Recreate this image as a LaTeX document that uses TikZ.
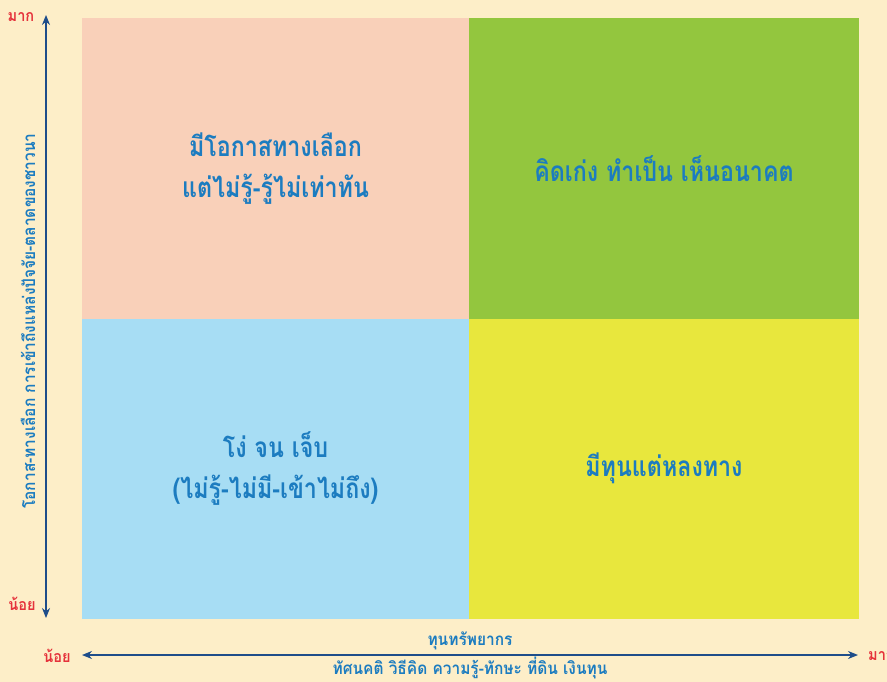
\documentclass[tikz,border=0pt]{standalone}
\usepackage{fontspec}
\newfontfamily\thaifont[Script=Thai,FakeStretch=0.83]{Loma}
\newfontfamily\thaiaxis[Script=Thai,FakeStretch=0.91]{Loma}
\usepackage{tikz}
\usetikzlibrary{arrows.meta,positioning}
\definecolor{bgcol}{HTML}{FDEEC8}
\definecolor{tlcol}{HTML}{F9D0B9}
\definecolor{trcol}{HTML}{93C63E}
\definecolor{blcol}{HTML}{A7DDF4}
\definecolor{brcol}{HTML}{E8E73D}
\definecolor{txtblue}{HTML}{1C7CC0}
\definecolor{axisblue}{HTML}{1E4D8A}
\definecolor{lblred}{HTML}{E5323B}

\begin{document}
\begin{tikzpicture}[
        x=1pt, y=-1pt,
        quad/.style={rectangle, minimum height=300.5pt, inner sep=0pt, outer sep=0pt, align=center,
          text=txtblue, font=\thaifont\bfseries\fontsize{28}{41}\selectfont},
        axis/.style={{Stealth[length=10pt,width=8pt]}-{Stealth[length=10pt,width=8pt]}, axisblue, line width=1.3pt},
        endlbl/.style={text=lblred, font=\thaiaxis\bfseries\fontsize{16}{20}\selectfont, inner sep=0pt},
        axislbl/.style={text=txtblue, font=\thaiaxis\bfseries\fontsize{17}{20}\selectfont, inner sep=0pt}
    ]
        % Background
        \fill[bgcol] (0,0) rectangle (887,682);
        \useasboundingbox (0,0) rectangle (887,682);

        % Quadrants
        \node[quad, fill=tlcol, minimum width=387pt, anchor=north west] (tl) at (82,18) {มีโอกาสทางเลือก\\แต่ไม่รู้-รู้ไม่เท่าทัน};
        \node[quad, fill=trcol, minimum width=390pt] (tr) [right=0pt of tl] {คิดเก่ง ทำเป็น เห็นอนาคต};
        \node[quad, fill=blcol, minimum width=387pt] (bl) [below=0pt of tl] {โง่ จน เจ็บ\\(ไม่รู้-ไม่มี-เข้าไม่ถึง)};
        \node[quad, fill=brcol, minimum width=390pt] (br) [right=0pt of bl] {มีทุนแต่หลงทาง};

        % Axes
        \coordinate (ytop) at (46,15);
        \coordinate (ybot) at (46,618);
        \coordinate (xleft) at (82,655);
        \coordinate (xright) at (858,655);
        \draw[axis] (ybot) -- (ytop);
        \draw[axis] (xleft) -- (xright);

        % Axis labels
        \node[endlbl] (ymore) at (21,17) {มาก};
        \node[endlbl] (yless) at (22,604) {น้อย};
        \node[endlbl] (xless) at (57,656) {น้อย};
        \node[endlbl, anchor=west] (xmore) at (868,656) {มาก};
        \node[axislbl, rotate=90] (ytitle) at (28,321) {โอกาส-ทางเลือก การเข้าถึงแหล่งปัจจัย-ตลาดของชาวนา};
        \node[axislbl] (xtitle) [above=5pt of xleft, xshift=388pt] {ทุนทรัพยากร};
        \node[axislbl] (xsub) at (470,668) {ทัศนคติ วิธีคิด ความรู้-ทักษะ ที่ดิน เงินทุน};
    \end{tikzpicture}
\end{document}
